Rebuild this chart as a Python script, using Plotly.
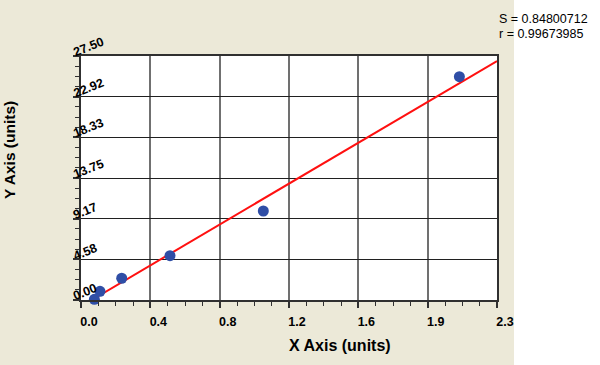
import numpy as np
import plotly.graph_objects as go

# ---- data ----
x_points = [0.074, 0.105, 0.225, 0.492, 1.008, 2.092]
y_points = [0.08, 0.98, 2.45, 4.99, 10.03, 25.17]

fit_slope = 12.02
fit_intercept = -0.709
fit_x = [0.059, 2.3]

x_tick_vals = [0, 0.38333, 0.76667, 1.15, 1.53333, 1.91667, 2.3]
x_tick_text = ["0.0", "0.4", "0.8", "1.2", "1.6", "1.9", "2.3"]
y_tick_vals = [0, 4.5833, 9.1667, 13.75, 18.3333, 22.9167, 27.5]
y_tick_text = ["0.00", "4.58", "9.17", "13.75", "18.33", "22.92", "27.50"]

stats_text = ["S = 0.84800712", "r = 0.99673985"]

x_title = "X Axis (units)"
y_title = "Y Axis (units)"

# ---- figure ----
FONT = "Liberation Sans, Arial, sans-serif"
BEIGE = "#ECE9D8"

fig = go.Figure()
fit_y = [fit_slope * v + fit_intercept for v in fit_x]
fig.add_trace(go.Scatter(x=fit_x, y=fit_y, mode="lines",
                         line=dict(color="#FF1010", width=2),
                         cliponaxis=False, hoverinfo="skip"))
fig.add_trace(go.Scatter(x=x_points, y=y_points, mode="markers",
                         marker=dict(color="#2F4EA6", size=11),
                         cliponaxis=False))

L, R, T, B = 81, 103, 56, 65
W, H = 600, 365
pw, ph = W - L - R, H - T - B

fig.update_layout(
    width=W, height=H,
    margin=dict(l=L, r=R, t=T, b=B, pad=0),
    paper_bgcolor="white", plot_bgcolor="white",
    showlegend=False,
    font=dict(family=FONT, color="black"),
)

fig.add_shape(type="rect", xref="paper", yref="paper",
              x0=-L / pw, x1=(514 - L) / pw, y0=-B / ph, y1=(H - B) / ph,
              fillcolor=BEIGE, line=dict(width=0), layer="below")
fig.add_shape(type="rect", xref="paper", yref="paper",
              x0=0, x1=1, y0=0, y1=1,
              fillcolor="white", line=dict(width=0), layer="below")

fig.update_xaxes(
    range=[0, 2.3], tickvals=x_tick_vals, ticktext=x_tick_text,
    showgrid=True, gridcolor="#707070", gridwidth=1.5,
    zeroline=False, showline=True, linecolor="#303030", linewidth=1.5, mirror=True,
    ticks="outside", ticklen=6, tickcolor="#303030", tickwidth=1.5,
    minor=dict(dtick=2.3 / 24, ticks="outside", ticklen=4, tickcolor="#303030",
               tickwidth=1.2, showgrid=False),
    tickfont=dict(size=12.5, family=FONT, weight="bold", color="black"),
    ticklabelshift=8, ticklabelstandoff=3,
)
fig.update_yaxes(
    range=[0, 27.5], tickvals=y_tick_vals, showticklabels=False,
    showgrid=True, gridcolor="#202020", gridwidth=1,
    zeroline=False, showline=True, linecolor="#303030", linewidth=1.5, mirror=True,
    ticks="outside", ticklen=6, tickcolor="#303030", tickwidth=1.5,
    minor=dict(dtick=27.5 / 24, ticks="outside", ticklen=4, tickcolor="#303030",
               tickwidth=1.2, showgrid=False),
)

# rotated y tick labels
for v, t in zip(y_tick_vals, y_tick_text):
    fig.add_annotation(x=(69 - L) / pw, xref="paper", y=v, yref="y",
                       text=t, showarrow=False, textangle=-22,
                       xanchor="left", yanchor="bottom", yshift=-6,
                       font=dict(size=12.5, family=FONT, weight="bold", color="black"))

# axis titles
fig.add_annotation(x=(340 - L) / pw, y=(H - B - 346) / ph, xref="paper", yref="paper",
                   text=x_title, showarrow=False, xanchor="center", yanchor="middle",
                   font=dict(size=16, family=FONT, weight="bold", color="black"))
fig.add_annotation(x=(9 - L) / pw, y=(H - B - 150) / ph, xref="paper", yref="paper",
                   text=y_title, showarrow=False, textangle=-90,
                   xanchor="center", yanchor="middle",
                   font=dict(size=15.5, family=FONT, weight="bold", color="black"))

# stats text
for i, s in enumerate(stats_text):
    fig.add_annotation(x=(497 - L) / pw, y=(H - B - (19 + 15 * i)) / ph,
                       xref="paper", yref="paper", text=s, showarrow=False,
                       xanchor="left", yanchor="middle",
                       font=dict(size=12.5, family=FONT, color="black"))

fig.write_html("out.html")
